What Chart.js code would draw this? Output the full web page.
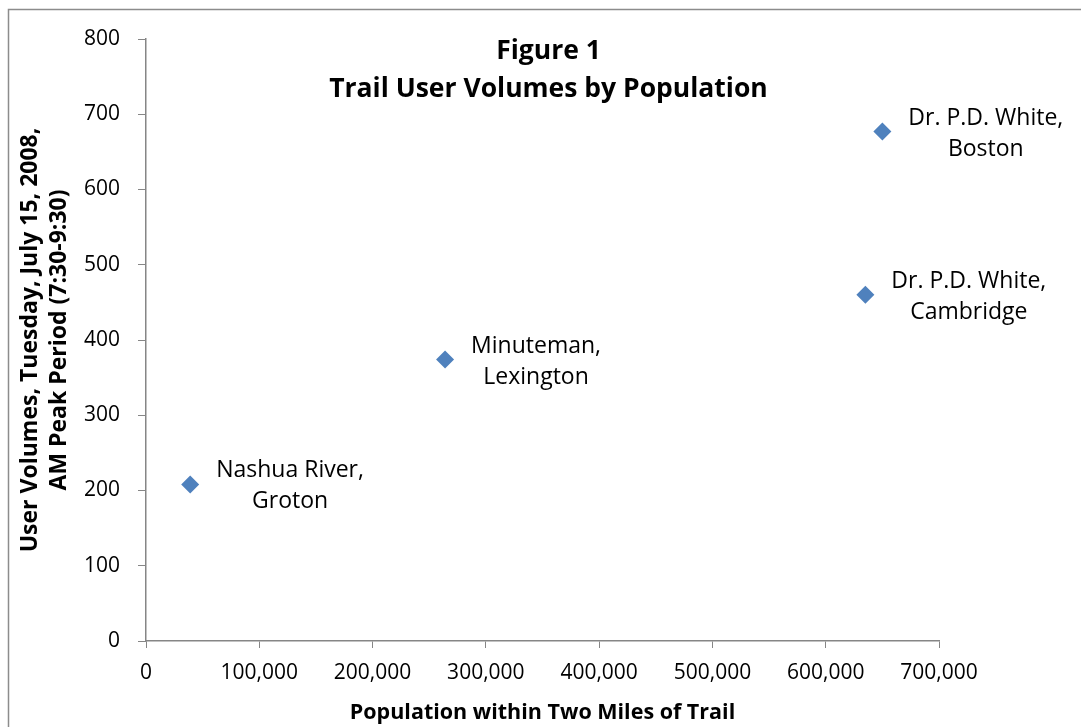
<!DOCTYPE html>
<html>
<head>
<meta charset="utf-8">
<script src="https://cdn.jsdelivr.net/npm/chart.js@4.4.1/dist/chart.umd.min.js"></script>
<style>
  html, body { margin: 0; padding: 0; background: #fff; }
  #wrap { width: 1081px; height: 727px; position: relative; }
</style>
</head>
<body>
<div id="wrap"><canvas id="chart" width="1081" height="727"></canvas></div>
<script>
// data
const siteLabels = [
  ['Nashua River,', 'Groton'],
  ['Minuteman,', 'Lexington'],
  ['Dr. P.D. White,', 'Cambridge'],
  ['Dr. P.D. White,', 'Boston']
];
const population = [39000, 264000, 635000, 650000];
const userVolumes = [208, 374, 460, 677];

const titleLines = ['Figure 1', 'Trail User Volumes by Population'];
const xTitle = 'Population within Two Miles of Trail';
const yTitle = ['User Volumes, Tuesday, July 15, 2008,', 'AM Peak Period (7:30-9:30)'];

const FONT = '"Open Sans", Calibri, sans-serif';
const AXIS_GREY = '#868686';

let points = population.map((p, i) => ({ x: p, y: userVolumes[i] }));

// draws the frame, the in-plot title and the point labels
let decorations = {
  id: 'decorations',
  beforeDraw(chart) {
    let ctx = chart.ctx;
    ctx.save();
    ctx.strokeStyle = '#8c8c8c';
    ctx.lineWidth = 1.5;
    ctx.beginPath();
    ctx.moveTo(8.5, 727);
    ctx.lineTo(8.5, 9.5);
    ctx.lineTo(1081, 9.5);
    ctx.stroke();
    ctx.restore();
  },
  afterDatasetsDraw(chart) {
    let ctx = chart.ctx;
    let area = chart.chartArea;
    ctx.save();
    ctx.fillStyle = '#000';
    ctx.textAlign = 'center';
    ctx.textBaseline = 'alphabetic';
    ctx.font = 'bold 26.5px ' + FONT;
    let cx = (area.left + area.right) / 2 + 6;
    ctx.fillText(titleLines[0], cx, 59);
    ctx.fillText(titleLines[1], cx, 97);

    ctx.font = '23px ' + FONT;
    chart.getDatasetMeta(0).data.forEach((pt, i) => {
      let lines = siteLabels[i];
      let w = Math.max(...lines.map(l => ctx.measureText(l).width));
      let mid = pt.x + 26 + w / 2;
      ctx.fillText(lines[0], mid, pt.y - 7);
      ctx.fillText(lines[1], mid, pt.y + 24);
    });
    ctx.restore();
  }
};

let myChart = new Chart(document.getElementById('chart'), {
  type: 'scatter',
  data: {
    datasets: [{
      data: points,
      pointStyle: 'rectRot',
      pointRadius: 9,
      pointHoverRadius: 9,
      backgroundColor: '#4F81BD',
      borderColor: '#4F81BD',
      borderWidth: 0
    }]
  },
  options: {
    responsive: false,
    animation: false,
    devicePixelRatio: 1,
    layout: { padding: { top: 39, right: 142, bottom: 0, left: 0 } },
    plugins: {
      legend: { display: false },
      tooltip: { enabled: false },
      title: { display: false }
    },
    scales: {
      x: {
        type: 'linear',
        min: 0,
        max: 700000,
        afterFit: s => { s.height = 86; },
        ticks: {
          stepSize: 100000,
          color: '#000',
          font: { family: FONT, size: 21 },
          padding: 12,
          maxRotation: 0,
          callback: v => v.toLocaleString('en-US')
        },
        grid: { drawOnChartArea: false, color: AXIS_GREY, tickLength: 7 },
        border: { color: AXIS_GREY, width: 1.5 },
        title: {
          display: true,
          text: xTitle,
          color: '#000',
          font: { family: FONT, size: 21.5, weight: 'bold', lineHeight: 1.2 },
          padding: { top: 0, bottom: 1 }
        }
      },
      y: {
        type: 'linear',
        min: 0,
        max: 800,
        afterFit: s => { s.width = 146; },
        ticks: {
          stepSize: 100,
          color: '#000',
          font: { family: FONT, size: 21 },
          padding: 18
        },
        grid: { drawOnChartArea: false, color: AXIS_GREY, tickLength: 8 },
        border: { color: AXIS_GREY, width: 1.5 },
        title: {
          display: true,
          text: yTitle,
          color: '#000',
          font: { family: FONT, size: 23, weight: 'bold', lineHeight: 1.25 },
          padding: { top: 16, bottom: 0 }
        }
      }
    }
  },
  plugins: [decorations]
});
</script>
</body>
</html>
